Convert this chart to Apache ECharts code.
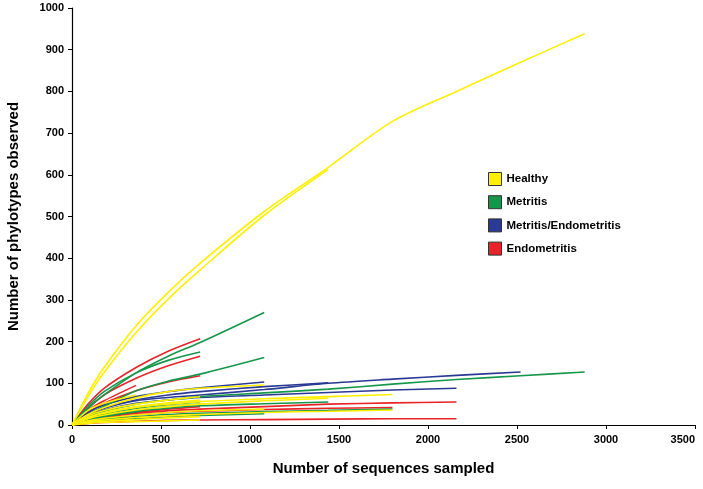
<!DOCTYPE html>
<html>
<head>
<meta charset="utf-8">
<script src="https://cdn.jsdelivr.net/npm/echarts@6/dist/echarts.min.js"></script>
<style>
html,body{margin:0;padding:0;background:#fff;}
#c{width:703px;height:489px;}
</style>
</head>
<body>
<div id="c"></div>
<script>
// x positions (number of sequences sampled) shared by all curves
const xSteps = [0, 90, 180, 360, 540, 720, 1080, 1440, 1800, 2160, 2520, 2880];
const groups = ['Healthy', 'Metritis', 'Metritis/Endometritis', 'Endometritis'];
const xTicks = [0, 500, 1000, 1500, 2000, 2500, 3000, 3500];
const yTicks = [0, 100, 200, 300, 400, 500, 600, 700, 800, 900, 1000];

// Healthy curves (phylotypes observed at xSteps)
const healthy = [
  [0, 76, 138, 238, 318, 388, 512, 618, 728, 800, 870, 938],
  [0, 68, 126, 222, 302, 372, 503, 613],
  [0, 25, 42, 65, 80, 88, 96],
  [0, 35, 52, 72],
  [0, 18, 28, 42, 50, 56, 63, 68, 73],
  [0, 8, 12, 18, 22, 25, 30, 33, 36],
  [0, 15, 24, 36, 44, 50, 58, 64],
  [0, 22, 35, 50, 60, 68],
  [0, 18, 30, 44, 53, 60],
  [0, 6, 9, 13, 17, 20],
  [0, 4, 6, 8, 10, 12],
  [0, 10, 16, 24, 30, 34, 38]
];
// Metritis curves
const metritis = [
  [0, 40, 72, 125, 165, 198, 270],
  [0, 45, 80, 125, 155, 175],
  [0, 25, 45, 82, 105, 122, 162],
  [0, 20, 33, 50, 60, 68, 77, 86, 98, 109, 118, 127],
  [0, 12, 20, 32, 40, 46, 51, 55],
  [0, 7, 11, 16, 20, 23, 27],
  [0, 16, 26, 40, 49, 56],
  [0, 9, 14, 20, 25, 28, 32, 35, 38],
  [0, 14, 23, 35, 44, 50]
];
// Metritis/Endometritis curves
const metEndo = [
  [0, 30, 48, 68, 80, 89, 103],
  [0, 26, 42, 60, 72, 80, 92, 101],
  [0, 25, 40, 58, 66, 72, 85, 100, 110, 119, 127],
  [0, 22, 36, 52, 60, 66, 72, 78, 84, 88]
];
// Endometritis curves
const endo = [
  [0, 50, 88, 138, 177, 207],
  [0, 40, 72, 112, 142, 165],
  [0, 30, 52, 82, 103, 118],
  [0, 10, 17, 28, 34, 38, 44, 50, 53, 55],
  [0, 4, 6, 9, 11, 12, 13, 14, 15, 15],
  [0, 35, 58, 95],
  [0, 10, 16, 24, 30, 33, 37, 40, 42],
  [0, 12, 20, 30, 38, 44]
];

const colors = {
  'Healthy': '#FFEF00',
  'Metritis': '#16964A',
  'Metritis/Endometritis': '#2B3A93',
  'Endometritis': '#E8232A'
};
const font = 'Arial, "Liberation Sans", sans-serif';

function mk(name, curves) {
  return curves.map(ys => ({
    name: name,
    type: 'line',
    smooth: 0.3,
    symbol: 'none',
    color: colors[name],
    lineStyle: { width: 1.6, color: colors[name] },
    data: ys.map((y, i) => [xSteps[i], y]),
    animation: false
  }));
}

const series = [].concat(
  mk('Endometritis', endo),
  mk('Metritis/Endometritis', metEndo),
  mk('Metritis', metritis),
  mk('Healthy', healthy)
);

const chart = echarts.init(document.getElementById('c'), null, { renderer: 'canvas' });
chart.setOption({
  backgroundColor: '#fff',
  animation: false,
  grid: { left: 72, right: 8, top: 8, bottom: 64, containLabel: false, outerBoundsMode: 'none' },
  legend: {
    data: groups,
    orient: 'vertical',
    left: 483,
    top: 167,
    itemWidth: 13,
    itemHeight: 13,
    itemGap: 9.2,
    icon: 'rect',
    itemStyle: { borderColor: '#333', borderWidth: 1 },
    textStyle: { fontFamily: font, fontWeight: 'bold', fontSize: 11.5, color: '#000' }
  },
  xAxis: {
    type: 'value',
    min: xTicks[0], max: xTicks[xTicks.length - 1], interval: 500,
    name: 'Number of sequences sampled',
    nameLocation: 'middle',
    nameGap: 36,
    nameTextStyle: { fontFamily: font, fontWeight: 'bold', fontSize: 15, color: '#000' },
    axisLine: { lineStyle: { color: '#000', width: 1.2 } },
    axisTick: { show: true, length: 4, lineStyle: { color: '#000' } },
    axisLabel: { fontFamily: font, fontWeight: 'bold', fontSize: 11, color: '#000', margin: 9, alignMaxLabel: 'right', formatter: v => String(v) },
    splitLine: { show: false }
  },
  yAxis: {
    type: 'value',
    min: yTicks[0], max: yTicks[yTicks.length - 1], interval: 100,
    name: 'Number of phylotypes observed',
    nameLocation: 'middle',
    nameGap: 51,
    nameRotate: 90,
    nameTextStyle: { fontFamily: font, fontWeight: 'bold', fontSize: 15, color: '#000' },
    axisLine: { show: true, lineStyle: { color: '#000', width: 1.2 } },
    axisTick: { show: true, length: 4, lineStyle: { color: '#000' } },
    axisLabel: { fontFamily: font, fontWeight: 'bold', fontSize: 11, color: '#000', margin: 8, formatter: v => String(v) },
    splitLine: { show: false }
  },
  series: series
});
</script>
</body>
</html>
